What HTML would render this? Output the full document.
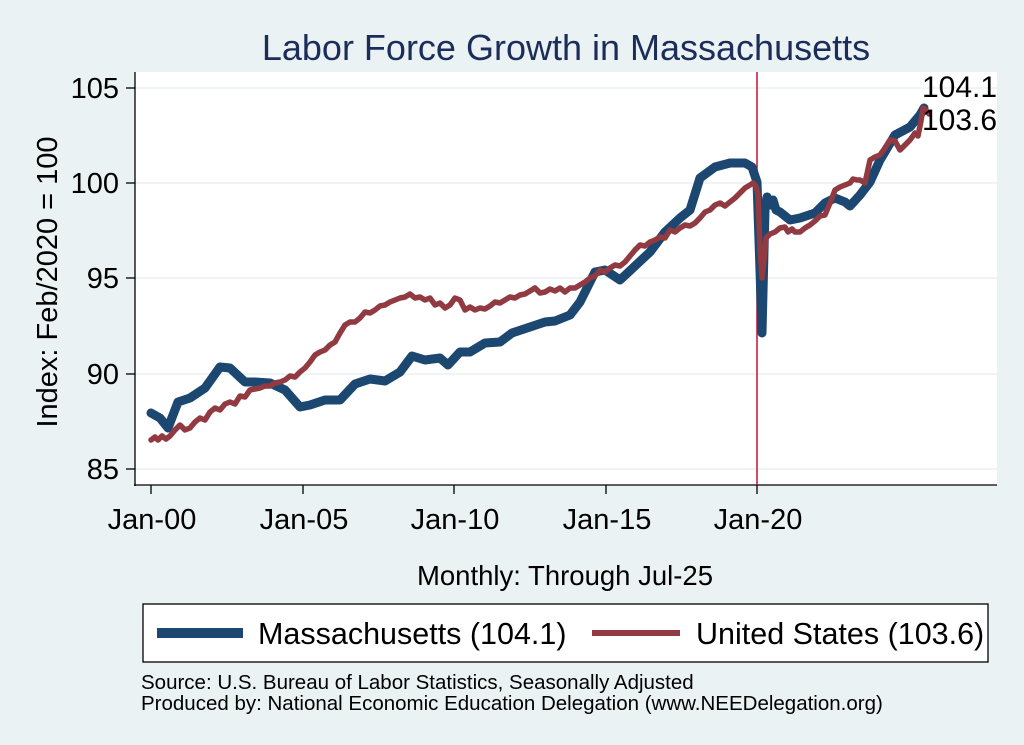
<!DOCTYPE html>
<html><head><meta charset="utf-8"><style>
body{margin:0;background:#eaf2f3;}
svg{display:block;font-family:"Liberation Sans",Arial,sans-serif;}
</style></head><body>
<svg width="1024" height="745" viewBox="0 0 1024 745">
<rect width="1024" height="745" fill="#eaf2f3"/>
<text x="566" y="60" text-anchor="middle" font-size="36" fill="#1c2d5a">Labor Force Growth in Massachusetts</text>
<rect x="135" y="72" width="862" height="413" fill="#ffffff"/>
<g stroke="#eaf2f3" stroke-width="1.5">
<line x1="135" y1="88" x2="997" y2="88"/><line x1="135" y1="183" x2="997" y2="183"/>
<line x1="135" y1="278" x2="997" y2="278"/><line x1="135" y1="374" x2="997" y2="374"/>
<line x1="135" y1="469" x2="997" y2="469"/></g>
<g stroke="#000" stroke-width="1.3" fill="none">
<line x1="135" y1="72" x2="135" y2="486"/><line x1="134" y1="485" x2="997" y2="485"/>
<line x1="126" y1="88" x2="135" y2="88"/><line x1="126" y1="183" x2="135" y2="183"/>
<line x1="126" y1="278" x2="135" y2="278"/><line x1="126" y1="374" x2="135" y2="374"/>
<line x1="126" y1="469" x2="135" y2="469"/>
<line x1="151" y1="485" x2="151" y2="494"/><line x1="303" y1="485" x2="303" y2="494"/>
<line x1="454" y1="485" x2="454" y2="494"/><line x1="606" y1="485" x2="606" y2="494"/>
<line x1="757" y1="485" x2="757" y2="494"/></g>
<g font-size="29" fill="#000" text-anchor="end">
<text x="119" y="98">105</text><text x="119" y="193">100</text><text x="119" y="288">95</text>
<text x="119" y="384">90</text><text x="119" y="479">85</text></g>
<g font-size="29" fill="#000" text-anchor="middle">
<text x="152" y="529">Jan-00</text><text x="304" y="529">Jan-05</text><text x="455" y="529">Jan-10</text>
<text x="607" y="529">Jan-15</text><text x="758" y="529">Jan-20</text></g>
<text transform="translate(57,282) rotate(-90)" text-anchor="middle" font-size="29">Index: Feb/2020 = 100</text>
<text x="565" y="585" text-anchor="middle" font-size="27.5">Monthly: Through Jul-25</text>
<line x1="757" y1="72" x2="757" y2="485" stroke="#c8102e" stroke-width="1.5"/>
<polyline fill="none" stroke="#1b4770" stroke-width="9" stroke-linejoin="round" stroke-linecap="round" points="151,413 160,418 168,428 178,402 190,398 205,388 220,367 230,368 245,382 255,382 270,383 285,390 300,407 310,405 325,400 340,400 355,384 370,379 385,381 400,372 412,356 425,360 440,358 448,365 460,352 470,352 485,343 500,342 512,333 530,327 545,322 555,321 570,315 580,302 595,272 605,270 620,280 635,266 650,252 665,232 680,218 690,210 700,178 715,167 730,163 745,163 752,167 757,182 760,270 762,333 765,210 767,197 770,205 773,200 776,210 780,212 790,220 800,218 815,213 825,203 835,198 845,202 850,206 860,195 870,182 880,160 895,135 910,127 920,115 924,108"/>
<polyline fill="none" stroke="#913a41" stroke-width="5.5" stroke-linejoin="round" stroke-linecap="round" points="151,440 155,437 158,440 162,436 166,439 170,436 175,430 180,425 185,430 190,428 195,422 200,418 205,420 210,412 215,408 220,410 225,404 230,402 235,404 240,396 245,397 250,390 255,389 260,388 265,386 270,386 275,383 280,382 285,380 290,376 295,377 300,372 305,368 310,362 315,355 320,352 325,350 330,345 335,342 340,333 345,325 350,322 355,322 360,318 365,312 370,313 375,310 380,306 385,305 390,302 395,300 400,298 405,297 410,294 415,298 420,297 425,300 430,298 435,305 440,303 445,308 450,305 455,298 460,300 465,310 470,307 475,310 480,308 485,309 490,306 495,302 500,303 505,300 510,297 515,298 520,295 525,294 530,291 535,288 540,293 545,292 550,289 555,291 560,288 565,292 570,288 575,288 580,285 585,282 590,278 595,276 600,270 605,272 610,268 615,265 620,266 625,262 630,256 635,250 640,245 645,246 650,242 655,240 660,237 665,238 670,230 675,232 680,228 685,225 690,226 695,223 700,218 705,212 710,210 715,205 720,203 725,206 730,202 735,198 740,193 745,188 750,185 753,183 756,186 758,195 760,250 762,278 764,260 766,238 770,234 775,232 780,228 785,227 788,232 792,229 795,232 800,232 805,228 810,225 815,221 820,216 825,215 830,203 835,190 840,187 845,185 850,183 853,179 857,180 860,180 865,183 870,160 875,157 880,155 885,148 890,140 895,141 900,150 905,145 910,140 915,133 918,136 921,121 923,108 926,110 929,114"/>
<text x="922" y="97" font-size="30">104.1</text>
<text x="922" y="130" font-size="30">103.6</text>
<rect x="143" y="604" width="845" height="58" fill="#fff" stroke="#000" stroke-width="1.3"/>
<line x1="157" y1="633" x2="243" y2="633" stroke="#1b4770" stroke-width="10"/>
<text x="258" y="644" font-size="30.5">Massachusetts (104.1)</text>
<line x1="592" y1="633" x2="680" y2="633" stroke="#913a41" stroke-width="6"/>
<text x="696" y="644" font-size="30.5">United States (103.6)</text>
<text x="141" y="689" font-size="20.5">Source: U.S. Bureau of Labor Statistics, Seasonally Adjusted</text>
<text x="141" y="710" font-size="20.5">Produced by: National Economic Education Delegation (www.NEEDelegation.org)</text>
</svg>
</body></html>
